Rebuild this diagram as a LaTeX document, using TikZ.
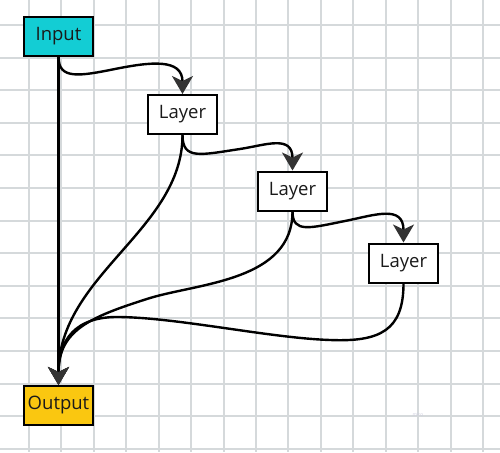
\documentclass[tikz,border=0pt]{standalone}
\usepackage{fontspec}
\setmainfont{Open Sans}
\usetikzlibrary{arrows.meta}
\definecolor{gridc}{HTML}{D5D9DB}
\definecolor{incol}{HTML}{13CDD4}
\definecolor{outcol}{HTML}{FAC710}
\definecolor{headc}{HTML}{333333}
\definecolor{txtc}{HTML}{1A1A1A}
\definecolor{wmc}{HTML}{CFCFDF}
\begin{document}
\begin{tikzpicture}[x=1pt,y=-1pt,
  box/.style={draw=black, line width=2pt, fill=white, minimum width=69pt, minimum height=39pt, inner sep=0pt, font=\fontsize{18.5}{22}\selectfont, text=txtc},
  conn/.style={line width=2.4pt, -{Stealth[length=18pt,width=21pt,inset=5pt,fill=headc,color=headc]}}]
\useasboundingbox (0,0) rectangle (500,452);
\fill[white] (0,0) rectangle (500,452);
\foreach \i in {0,...,14} \draw[gridc, line width=2pt] ({29+32.43*\i},0) -- ({29+32.43*\i},452);
\foreach \j in {0,...,13} \draw[gridc, line width=2pt] (0,{25+32.6*\j}) -- (500,{25+32.6*\j});
\node[wmc, font=\fontsize{5}{5}\selectfont] (wm) at (418,415) {miro};
\node[box, fill=incol] (in) at (58.5,36.5) {Input};
\node[box] (l1) at (182.5,114.5) {Layer};
\node[box] (l2) at (292.5,191) {Layer};
\node[box] (l3) at (403.5,263) {Layer};
\node[box, fill=outcol] (out) at (58.5,405.5) {Output};
\draw[conn] (in.south) -- (out.north);
\draw[conn] (in.south) .. controls +(0,23) and (80,76) .. (115,69) .. controls (150,62) and +(0,-36) .. (l1.north);
\draw[conn] (l1.south) .. controls +(0,25) and (200,155) .. (240,149) .. controls (266,145) and +(0,-36) .. (l2.north);
\draw[conn] (l2.south) .. controls +(0,22) and (310,228) .. (345,221) .. controls (375,215) and +(0,-38) .. (l3.north);
\draw[conn] (l1.south) .. controls +(0,95) and +(0,-110) .. (out.north);
\draw[conn] (l2.south) .. controls +(0,69) and (200,283) .. (150,298) .. controls (90,317) and +(0,-55) .. (out.north);
\draw[conn] (l3.south) .. controls +(0,47) and (380,342) .. (330,340) .. controls (270,338) and (180,318) .. (120,317) .. controls (75,316) and +(0,-45) .. (out.north);
\end{tikzpicture}
\end{document}
